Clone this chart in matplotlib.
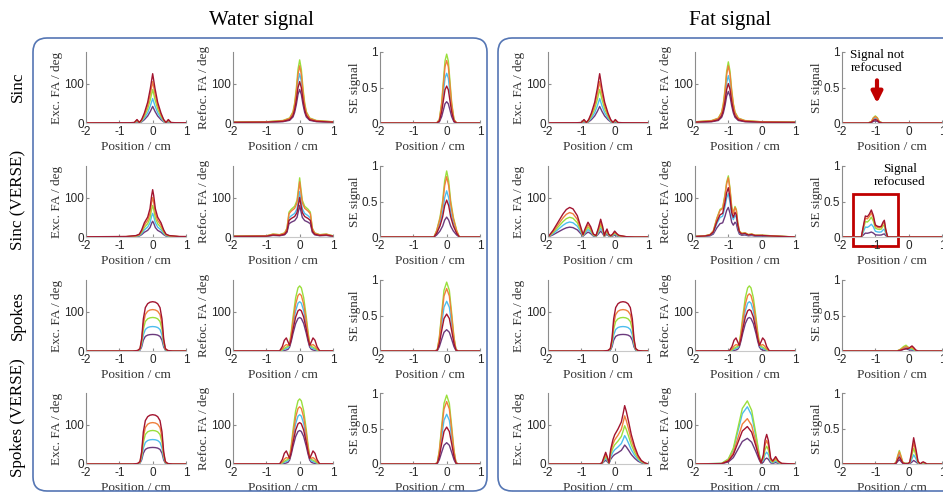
import matplotlib.pyplot as plt
from matplotlib.patches import FancyBboxPatch, Rectangle
from matplotlib.transforms import IdentityTransform

plt.rcParams['axes.unicode_minus'] = False

W, H = 943, 492

# line colours: low B1 -> high B1
colors = ['#6B3A7D', '#4DBEEE', '#9ADF3C', '#F07F3C', '#A2142F']
row_names = ['Sinc', 'Sinc (VERSE)', 'Spokes', 'Spokes (VERSE)']
group_names = ['Water signal', 'Fat signal']
xticks = [-2, -1, 0, 1]

# ---- profile shapes (normalised to peak = 1) ----
sinc_exc_x = [-3, -0.7, -0.55, -0.47, -0.4, -0.33, -0.25, -0.15, -0.07, 0, 0.07, 0.15, 0.25, 0.33, 0.4, 0.47, 0.55, 0.7, 3]
sinc_exc_y = [0, 0.005, 0.01, 0.07, 0.01, 0.07, 0.2, 0.42, 0.7, 1, 0.7, 0.42, 0.2, 0.07, 0.01, 0.07, 0.01, 0.005, 0]

sinc_refoc_x = [-3, -1, -0.5, -0.3, -0.2, -0.15, -0.1, -0.05, 0, 0.05, 0.1, 0.15, 0.2, 0.3, 0.5, 1, 3]
sinc_refoc_y = [0.01, 0.02, 0.04, 0.08, 0.18, 0.32, 0.55, 0.85, 1, 0.85, 0.55, 0.32, 0.18, 0.08, 0.04, 0.02, 0.01]

sinc_se_x = [-3, -0.3, -0.22, -0.15, -0.1, -0.05, 0, 0.05, 0.1, 0.15, 0.22, 0.3, 3]
sinc_se_y = [0, 0, 0.05, 0.3, 0.6, 0.9, 1, 0.9, 0.6, 0.3, 0.05, 0, 0]

verse_exc_x = [-3, -0.8, -0.5, -0.4, -0.33, -0.25, -0.15, -0.08, -0.03, 0, 0.03, 0.08, 0.15, 0.25, 0.33, 0.4, 0.5, 0.8, 3]
verse_exc_y = [0, 0.01, 0.03, 0.06, 0.15, 0.3, 0.42, 0.6, 0.88, 1, 0.88, 0.6, 0.42, 0.3, 0.15, 0.06, 0.03, 0.01, 0]

verse_refoc_x = [-3, -1, -0.8, -0.6, -0.45, -0.38, -0.32, -0.25, -0.15, -0.08, -0.03, 0, 0.03, 0.08, 0.15, 0.25, 0.32, 0.38, 0.45, 0.6, 0.8, 1, 3]
verse_refoc_y = [0.01, 0.02, 0.05, 0.04, 0.07, 0.15, 0.42, 0.47, 0.52, 0.62, 0.85, 1, 0.85, 0.62, 0.52, 0.47, 0.42, 0.15, 0.07, 0.04, 0.05, 0.02, 0.01]

verse_se_x = [-3, -0.38, -0.3, -0.2, -0.12, -0.06, 0, 0.06, 0.12, 0.2, 0.3, 0.38, 3]
verse_se_y = [0, 0, 0.1, 0.3, 0.55, 0.85, 1, 0.85, 0.55, 0.3, 0.1, 0, 0]

spokes_exc_x = [-3, -0.6, -0.45, -0.38, -0.33, -0.28, -0.22, -0.15, -0.08, 0, 0.08, 0.15, 0.22, 0.28, 0.33, 0.38, 0.45, 0.6, 3]
spokes_exc_y = [0, 0, 0.01, 0.05, 0.25, 0.65, 0.88, 0.96, 0.99, 1, 0.99, 0.96, 0.88, 0.65, 0.25, 0.05, 0.01, 0, 0]

spokes_refoc_x = [-3, -0.6, -0.52, -0.46, -0.4, -0.35, -0.3, -0.25, -0.2, -0.12, -0.05, 0, 0.05, 0.12, 0.2, 0.25, 0.3, 0.35, 0.4, 0.46, 0.52, 0.6, 3]
spokes_refoc_main = [0, 0.003, 0.008, 0.015, 0.03, 0.05, 0.12, 0.3, 0.52, 0.82, 0.97, 1, 0.97, 0.82, 0.52, 0.3, 0.12, 0.05, 0.03, 0.015, 0.008, 0.003, 0]
spokes_refoc_lobe = [0, 0, 0.35, 0.85, 1, 0.6, 0.05, 0, 0, 0, 0, 0, 0, 0, 0, 0, 0.05, 0.6, 1, 0.85, 0.35, 0, 0]

spokes_se_x = [-3, -0.35, -0.28, -0.22, -0.15, -0.08, 0, 0.08, 0.15, 0.22, 0.28, 0.35, 3]
spokes_se_y = [0, 0, 0.02, 0.2, 0.55, 0.88, 1, 0.88, 0.55, 0.2, 0.02, 0, 0]

fat_sinc_se_x = [-3, -1.22, -1.12, -1.06, -1.0, -0.94, -0.88, -0.78, 3]
fat_sinc_se_y = [0, 0, 0.2, 0.75, 1, 0.75, 0.2, 0, 0]

fat_verse_exc_x = [-2, -1.85, -1.7, -1.55, -1.45, -1.35, -1.25, -1.12, -1.02, -0.95, -0.88, -0.8, -0.72, -0.64, -0.56, -0.49,
                   -0.42, -0.36, -0.31, -0.27, -0.23, -0.18, -0.12, -0.06, 0.0, 0.06, 0.12, 0.2, 0.35, 0.6, 1]
fat_verse_exc_y = [0, 0.22, 0.5, 0.78, 0.93, 1, 0.95, 0.72, 0.35, 0.08, 0.3, 0.5, 0.35, 0.1, 0.05, 0.3,
                   0.6, 0.35, 0.05, 0.18, 0.27, 0.1, 0.04, 0.1, 0.2, 0.12, 0.06, 0.04, 0.01, 0, 0]

fat_verse_refoc_x = [-2, -1.7, -1.55, -1.45, -1.35, -1.25, -1.17, -1.1, -1.05, -1.0, -0.95, -0.9, -0.85, -0.8, -0.76,
                     -0.72, -0.67, -0.6, -0.5, -0.4, -0.3, -0.2, 0.0, 0.3, 1]
fat_verse_refoc_y = [0.01, 0.02, 0.04, 0.1, 0.3, 0.45, 0.48, 0.7, 0.9, 1.0, 0.8, 0.5, 0.4, 0.5, 0.45,
                     0.25, 0.1, 0.06, 0.07, 0.04, 0.05, 0.03, 0.03, 0.02, 0]

fat_verse_se_x = [-2, -1.42, -1.36, -1.3, -1.24, -1.18, -1.12, -1.06, -1.0, -0.94, -0.88, -0.82, -0.77, -0.73, -0.69, -0.64, -0.6, 1]
fat_verse_se_y = [0, 0, 0.4, 0.78, 0.75, 0.85, 1.0, 0.8, 0.45, 0.4, 0.38, 0.4, 0.55, 0.62, 0.3, 0.03, 0, 0]

fat_spokes_se_x = [-2, -0.35, -0.25, -0.15, -0.08, 0.0, 0.05, 0.1, 0.15, 0.22, 0.3, 1]
fat_spokes_se_a = [0, 0, 0.3, 0.8, 1, 0.5, 0.2, 0.05, 0, 0, 0, 0]
fat_spokes_se_b = [0, 0, 0, 0, 0.05, 0.3, 0.7, 1, 0.7, 0.15, 0, 0]

fat_sv_exc_x = [-2, -0.45, -0.38, -0.32, -0.27, -0.22, -0.17, -0.12, -0.05, 0.0, 0.1, 0.2, 0.26, 0.3, 0.35, 0.42, 0.5, 0.6, 0.7, 0.8, 0.9, 1]
fat_sv_exc_y = [0, 0, 0.02, 0.12, 0.2, 0.12, 0.02, 0.25, 0.42, 0.5, 0.6, 0.72, 0.88, 1.0, 0.9, 0.72, 0.5, 0.3, 0.15, 0.06, 0.02, 0]

fat_sv_refoc_x = [-2, -1.2, -1.0, -0.85, -0.7, -0.58, -0.43, -0.3, -0.18, -0.08, -0.02, 0.05, 0.1, 0.15, 0.2, 0.27, 0.33, 0.42, 0.5, 0.6, 1]
fat_sv_refoc_main = [0, 0.01, 0.08, 0.25, 0.6, 0.88, 1, 0.85, 0.5, 0.18, 0.03, 0, 0, 0, 0, 0, 0, 0, 0, 0, 0]
fat_sv_refoc_side = [0, 0, 0, 0, 0, 0, 0, 0, 0, 0, 0, 0.3, 0.8, 1, 0.8, 0.2, 0.1, 0.25, 0.1, 0.02, 0]

fat_sv_se_x = [-2, -0.45, -0.38, -0.33, -0.28, -0.23, -0.18, -0.12, -0.02, 0.03, 0.08, 0.15, 0.22, 0.28, 0.35, 0.4, 0.44, 0.48, 0.55, 1]
fat_sv_se_a = [0, 0, 0.1, 0.6, 1, 0.6, 0.15, 0.05, 0.05, 0.05, 0, 0, 0, 0, 0, 0, 0, 0, 0, 0]
fat_sv_se_b = [0, 0, 0, 0, 0, 0, 0, 0, 0, 0.05, 0.4, 1, 0.55, 0.1, 0, 0.06, 0.08, 0.05, 0, 0]

# ---- peak values per line (purple, cyan, green, orange, dark red) ----
exc_peaks = [42, 62, 85, 105, 125]
refoc_peaks = [85, 125, 160, 145, 105]
se_peaks = [0.3, 0.7, 0.97, 0.88, 0.52]
verse_exc_peaks = [40, 60, 80, 100, 120]
verse_refoc_peaks = [80, 115, 150, 140, 100]
verse_se_peaks = [0.28, 0.65, 0.93, 0.85, 0.52]
spokes_refoc_peaks = [85, 125, 165, 145, 105]
spokes_lobe_peaks = [0, 3, 5, 12, 30]
fat_refoc_peaks = [80, 120, 155, 145, 100]
fat_se_peaks = [0.03, 0.07, 0.1, 0.09, 0.05]
fat_verse_exc_peaks = [25, 38, 50, 62, 75]
fat_verse_refoc_peaks = [75, 110, 155, 150, 125]
fat_verse_se_peaks = [0.07, 0.18, 0.28, 0.34, 0.38]
fat_spokes_se_a_peaks = [0.03, 0.05, 0.08, 0.06, 0.03]
fat_spokes_se_b_peaks = [0.01, 0.02, 0.03, 0.05, 0.07]
fat_sv_exc_peaks = [48, 72, 97, 122, 148]
fat_sv_refoc_main_peaks = [65, 145, 160, 115, 95]
fat_sv_refoc_side_peaks = [15, 30, 45, 60, 75]
fat_sv_se_a_peaks = [0.06, 0.14, 0.19, 0.17, 0.1]
fat_sv_se_b_peaks = [0.05, 0.13, 0.22, 0.3, 0.37]

# each panel: (x, [shape components], [peak lists], x shift, kind)
panels = {
    (0, 0): [(sinc_exc_x, [sinc_exc_y], [exc_peaks], 0, 'exc'),
             (sinc_refoc_x, [sinc_refoc_y], [refoc_peaks], 0, 'refoc'),
             (sinc_se_x, [sinc_se_y], [se_peaks], 0, 'se')],
    (0, 1): [(verse_exc_x, [verse_exc_y], [verse_exc_peaks], 0, 'exc'),
             (verse_refoc_x, [verse_refoc_y], [verse_refoc_peaks], 0, 'refoc'),
             (verse_se_x, [verse_se_y], [verse_se_peaks], 0, 'se')],
    (0, 2): [(spokes_exc_x, [spokes_exc_y], [exc_peaks], 0, 'exc'),
             (spokes_refoc_x, [spokes_refoc_main, spokes_refoc_lobe], [spokes_refoc_peaks, spokes_lobe_peaks], 0, 'refoc'),
             (spokes_se_x, [spokes_se_y], [se_peaks], 0, 'se')],
    (0, 3): [(spokes_exc_x, [spokes_exc_y], [exc_peaks], 0, 'exc'),
             (spokes_refoc_x, [spokes_refoc_main, spokes_refoc_lobe], [spokes_refoc_peaks, spokes_lobe_peaks], 0, 'refoc'),
             (spokes_se_x, [spokes_se_y], [se_peaks], 0, 'se')],
    (1, 0): [(sinc_exc_x, [sinc_exc_y], [exc_peaks], -0.45, 'exc'),
             (sinc_refoc_x, [sinc_refoc_y], [fat_refoc_peaks], -1.0, 'refoc'),
             (fat_sinc_se_x, [fat_sinc_se_y], [fat_se_peaks], 0, 'se')],
    (1, 1): [(fat_verse_exc_x, [fat_verse_exc_y], [fat_verse_exc_peaks], 0, 'exc'),
             (fat_verse_refoc_x, [fat_verse_refoc_y], [fat_verse_refoc_peaks], 0, 'refoc'),
             (fat_verse_se_x, [fat_verse_se_y], [fat_verse_se_peaks], 0, 'se')],
    (1, 2): [(spokes_exc_x, [spokes_exc_y], [exc_peaks], 0.25, 'exc'),
             (spokes_refoc_x, [spokes_refoc_main, spokes_refoc_lobe], [spokes_refoc_peaks, spokes_lobe_peaks], -0.37, 'refoc'),
             (fat_spokes_se_x, [fat_spokes_se_a, fat_spokes_se_b], [fat_spokes_se_a_peaks, fat_spokes_se_b_peaks], 0, 'se')],
    (1, 3): [(fat_sv_exc_x, [fat_sv_exc_y], [fat_sv_exc_peaks], 0, 'exc'),
             (fat_sv_refoc_x, [fat_sv_refoc_main, fat_sv_refoc_side], [fat_sv_refoc_main_peaks, fat_sv_refoc_side_peaks], 0, 'refoc'),
             (fat_sv_se_x, [fat_sv_se_a, fat_sv_se_b], [fat_sv_se_a_peaks, fat_sv_se_b_peaks], 0, 'se')],
}

ylabels = {'exc': 'Exc. FA / deg', 'refoc': 'Refoc. FA / deg', 'se': 'SE signal'}

serif = 'Liberation Serif'
sans = 'Liberation Sans'

fig = plt.figure(figsize=(W / 100, H / 100), dpi=100)

col_left = [[86, 233, 380], [548, 695, 842]]   # pixel left edge of each axes
row_top = [52, 166, 280, 393]                  # pixel top edge of each row
ax_w, ax_h = 100, 71

axes = {}
for g in range(2):
    for r in range(4):
        for c in range(3):
            left = col_left[g][c]
            top = row_top[r]
            ax = fig.add_axes([left / W, 1 - (top + ax_h) / H, ax_w / W, ax_h / H])
            x, comps, amps, shift, kind = panels[(g, r)][c]
            for i in range(len(colors)):
                y = [sum(amps[k][i] * comps[k][j] for k in range(len(comps))) for j in range(len(x))]
                ax.plot([v + shift for v in x], y, color=colors[i], lw=1.0)
            ax.set_xlim(-2, 1)
            ax.set_xticks(xticks)
            if kind == 'se':
                ax.set_ylim(0, 1)
                ax.set_yticks([0, 0.5, 1])
                ax.set_yticklabels(['0', '0.5', '1'])
            else:
                ax.set_ylim(0, 180)
                ax.set_yticks([0, 100])
            ax.spines['top'].set_visible(False)
            ax.spines['right'].set_visible(False)
            ax.spines['left'].set_color('#8c8c8c')
            ax.spines['bottom'].set_color('#c8c8c8')
            ax.tick_params(direction='in', length=2, colors='#8c8c8c', labelcolor='#262626',
                           labelsize=8.5, pad=1.5)
            ax.tick_params(axis='x', pad=2.5)
            for lab in ax.get_xticklabels() + ax.get_yticklabels():
                lab.set_family(sans)
            ax.set_ylabel(ylabels[kind], family=serif, fontsize=9.5, color='#333333', labelpad=0.5)
            ax.set_xlabel('Position / cm', family=serif, fontsize=9.5, color='#333333', labelpad=2)
            axes[(g, r, c)] = ax

# rounded boxes around the two groups (pixel coordinates)
box_color = '#5576B4'
fig.add_artist(FancyBboxPatch((33, 1), 454, 453, boxstyle='round,pad=0,rounding_size=14',
                              transform=IdentityTransform(), fill=False, ec=box_color, lw=1.2))
fig.add_artist(FancyBboxPatch((498, 1), 480, 453, boxstyle='round,pad=0,rounding_size=14',
                              transform=IdentityTransform(), fill=False, ec=box_color, lw=1.2))

fig.text(261 / W, 1 - 21 / H, group_names[0], family=serif, fontsize=15, ha='center', va='center')
fig.text(730 / W, 1 - 21 / H, group_names[1], family=serif, fontsize=15, ha='center', va='center')

row_centers = [87, 200, 315, 418]
for name, yc in zip(row_names, row_centers):
    fig.text(18 / W, 1 - yc / H, name, family=serif, fontsize=12.3, rotation=90, ha='center', va='center')

# annotations on the fat SE panels
red = '#C00000'
ax = axes[(1, 0, 2)]
ax.text(-0.95, 0.87, 'Signal not\nrefocused', family=serif, fontsize=9.5, ha='center', va='center', linespacing=1.1)
ax.annotate('', xy=(-0.95, 0.24), xytext=(-0.95, 0.64),
            arrowprops=dict(arrowstyle='-|>', color=red, lw=3, mutation_scale=16), annotation_clip=False)

ax = axes[(1, 1, 2)]
ax.text(-0.26, 0.86, 'Signal\nrefocused', family=serif, fontsize=9.5, ha='center', va='center', linespacing=1.1)
ax.add_patch(Rectangle((-1.67, -0.12), 1.35, 0.73, fill=False, ec=red, lw=2, clip_on=False))

fig.savefig('out.png', dpi=100)
